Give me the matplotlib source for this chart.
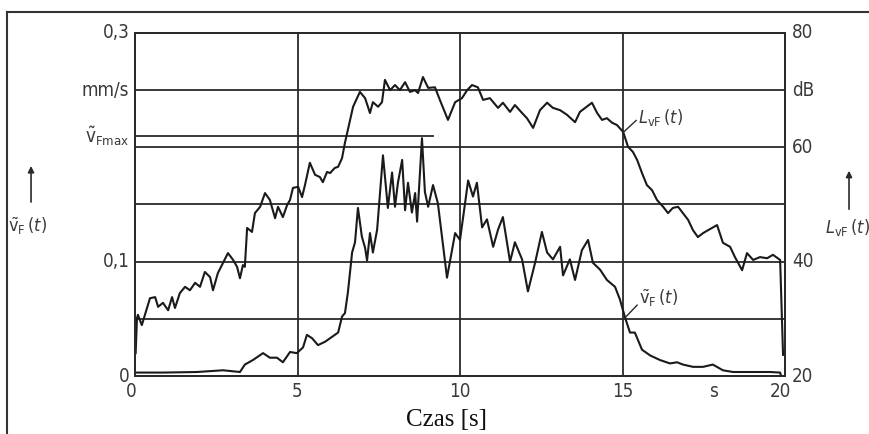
import matplotlib
matplotlib.use("Agg")
import matplotlib.pyplot as plt
from matplotlib import font_manager
from matplotlib.lines import Line2D

# czcionka waska jesli jest
names = {f.name for f in font_manager.fontManager.ttflist}
fnt = 'Liberation Sans Narrow' if 'Liberation Sans Narrow' in names else 'DejaVu Sans'
plt.rcParams['font.family'] = [fnt, 'DejaVu Sans']
plt.rcParams['font.stretch'] = 'condensed'
plt.rcParams['mathtext.fontset'] = 'custom'
plt.rcParams['mathtext.rm'] = fnt
plt.rcParams['mathtext.it'] = fnt + ':italic'
plt.rcParams['mathtext.sf'] = fnt

# poziom predkosci drgan L_vF [dB] w funkcji czasu [s]
t_L = [0.02, 0.06, 0.09, 0.21, 0.46, 0.62, 0.71, 0.86, 1.02, 1.14, 1.23, 1.38, 1.54, 1.69,
       1.85, 2.00, 2.15, 2.31, 2.40, 2.55, 2.71, 2.86, 3.02, 3.14, 3.23, 3.32, 3.38, 3.45,
       3.60, 3.69, 3.85, 4.00, 4.15, 4.31, 4.40, 4.55, 4.68, 4.77, 4.86, 5.02, 5.14, 5.23,
       5.38, 5.54, 5.69, 5.78, 5.91, 6.00, 6.15, 6.25, 6.37, 6.46, 6.62, 6.71, 6.92, 7.08,
       7.23, 7.32, 7.48, 7.60, 7.69, 7.85, 8.00, 8.15, 8.31, 8.46, 8.62, 8.71, 8.86, 9.02,
       9.23, 9.38, 9.63, 9.85, 10.06, 10.22, 10.37, 10.55, 10.71, 10.92, 11.17, 11.32,
       11.54, 11.69, 11.91, 12.06, 12.25, 12.46, 12.68, 12.86, 13.08, 13.29, 13.54, 13.69,
       13.85, 14.06, 14.22, 14.37, 14.52, 14.68, 14.83, 15.02, 15.17, 15.32, 15.45, 15.60,
       15.75, 15.91, 16.06, 16.25, 16.40, 16.55, 16.71, 16.86, 17.02, 17.17, 17.32, 17.48,
       17.63, 17.91, 18.09, 18.31, 18.46, 18.68, 18.83, 19.02, 19.23, 19.45, 19.63, 19.85,
       19.94]
L_vF = [24.0, 30.1, 30.7, 28.9, 33.6, 33.8, 32.1, 32.8, 31.5, 33.8, 31.9, 34.5, 35.6, 35.0,
        36.3, 35.6, 38.2, 37.3, 35.0, 38.0, 39.8, 41.5, 40.3, 39.1, 37.1, 39.4, 39.1, 45.9,
        45.2, 48.5, 49.6, 52.0, 50.8, 47.6, 49.6, 47.8, 49.9, 50.8, 52.9, 53.1, 51.3, 53.4,
        57.3, 55.2, 54.8, 53.9, 55.7, 55.5, 56.4, 56.6, 58.1, 60.8, 64.8, 67.1, 69.7, 68.6,
        66.0, 67.9, 67.1, 67.9, 71.8, 70.0, 70.9, 70.0, 71.4, 69.7, 70.0, 69.5, 72.3, 70.4,
        70.5, 68.3, 64.8, 67.9, 68.6, 70.0, 70.9, 70.5, 68.3, 68.6, 66.9, 67.8,
        66.2, 67.4, 66.0, 65.1, 63.4, 66.5, 67.8, 66.9, 66.5, 65.7, 64.4, 66.2,
        66.9, 67.8, 66.0, 64.8, 65.1, 64.3, 63.9, 62.7, 60.1, 59.2, 57.8, 55.5,
        53.4, 52.5, 50.8, 49.6, 48.5, 49.4, 49.6, 48.5, 47.3, 45.5, 44.3, 45.0,
        45.5, 46.4, 43.3, 42.6, 40.8, 38.5, 41.5, 40.3, 40.8, 40.6, 41.2, 40.3,
        23.7]

# predkosc drgan v_F [mm/s]
t_v = [0.00, 0.86, 1.91, 2.71, 3.23, 3.38, 3.63, 3.94, 4.15, 4.37, 4.55, 4.77, 4.98, 5.17,
       5.29, 5.45, 5.63, 5.85, 6.00, 6.25, 6.37, 6.46, 6.55, 6.68, 6.77, 6.86, 6.98, 7.08,
       7.14, 7.23, 7.32, 7.45, 7.63, 7.78, 7.91, 8.00, 8.09, 8.22, 8.31, 8.40, 8.52, 8.62,
       8.68, 8.83, 8.92, 9.02, 9.17, 9.32, 9.60, 9.85, 10.00, 10.15, 10.25, 10.40, 10.52,
       10.68, 10.83, 11.02, 11.17, 11.32, 11.54, 11.69, 11.91, 12.09, 12.31, 12.52, 12.68,
       12.86, 13.08, 13.17, 13.38, 13.54, 13.75, 13.94, 14.09, 14.31, 14.52, 14.77, 14.92,
       15.08, 15.23, 15.38, 15.60, 15.85, 16.15, 16.46, 16.68, 16.86, 17.17, 17.48, 17.78,
       18.09, 18.40, 18.71, 19.14, 19.54, 19.85, 19.88]
v_F = [0.003, 0.003, 0.0035, 0.005, 0.0035, 0.010, 0.014, 0.020, 0.016, 0.016, 0.012, 0.021,
       0.020, 0.025, 0.036, 0.033, 0.027, 0.030, 0.033, 0.038, 0.052, 0.055, 0.073, 0.108,
       0.117, 0.147, 0.122, 0.112, 0.101, 0.125, 0.108, 0.128, 0.193, 0.147, 0.178, 0.148,
       0.169, 0.189, 0.145, 0.169, 0.143, 0.160, 0.135, 0.208, 0.161, 0.148, 0.167, 0.151,
       0.086, 0.125, 0.119, 0.150, 0.171, 0.157, 0.169, 0.130, 0.137, 0.113, 0.128, 0.139,
       0.100, 0.117, 0.102, 0.074, 0.099, 0.126, 0.108, 0.102, 0.113, 0.088, 0.102, 0.084,
       0.110, 0.119, 0.099, 0.093, 0.084, 0.078, 0.067, 0.051, 0.038, 0.038, 0.023, 0.018,
       0.014, 0.011, 0.012, 0.010, 0.008, 0.008, 0.010, 0.005, 0.0035, 0.0035, 0.0035,
       0.0035, 0.003, 0.0]

v_max = 0.21
left_ticks = [0.3, 0.25, 0.21, 0.1, 0.0]
left_labels = ['0,3', 'mm/s', r'$\tilde{\mathrm{v}}_{\mathrm{Fmax}}$', '0,1', '0']
right_ticks = [80, 70, 60, 40, 20]
right_labels = ['80', 'dB', '60', '40', '20']
x_ticks = [0, 5, 10, 15, 17.8, 20]
x_labels = ['0', '5', '10', '15', 's', '20']

kol = '#2a2a2a'
txt = '#3a3a3a'
fig = plt.figure(figsize=(8.69, 4.34), dpi=100)
ax = fig.add_axes([135/869, 58/434, 650/869, 343/434])
ax.set_xlim(0, 20)
ax.set_ylim(0, 0.3)
ax.set_xticks([])
ax.set_yticks([])
for s in ax.spines.values():
    s.set_color(kol)
    s.set_linewidth(1.4)

# siatka
for g in [0.05, 0.1, 0.15, 0.2, 0.25]:
    ax.axhline(g, color=kol, lw=1.3)
for g in [5, 10, 15]:
    ax.axvline(g, color=kol, lw=1.3)
ax.plot([0, 9.17], [v_max, v_max], color=kol, lw=1.3)

ax.plot(t_v, v_F, color='#1a1a1a', lw=1.5)

ax2 = ax.twinx()
ax2.set_ylim(20, 80)
ax2.set_yticks([])
ax2.plot(t_L, L_vF, color='#1a1a1a', lw=1.5)
for s in ax2.spines.values():
    s.set_color(kol)
    s.set_linewidth(1.4)

fs = 13.5
for y, lab in zip(left_ticks, left_labels):
    ax.annotate(lab, (0, y), xytext=(-4, 0), textcoords='offset points',
                ha='right', va='center', fontsize=fs, color=txt)
for y, lab in zip(right_ticks, right_labels):
    ax2.annotate(lab, (20, y), xytext=(5, 0), textcoords='offset points',
                 ha='left', va='center', fontsize=fs, color=txt)
for x, lab in zip(x_ticks, x_labels):
    dx = -3 if x in (0, 20) else 0
    ax.annotate(lab, (x, 0), xytext=(dx, -11), textcoords='offset points',
                ha='center', va='center', fontsize=fs, color=txt)

# opisy krzywych
ax2.plot([15.02, 15.42], [62.6, 64.7], color=kol, lw=1)
ax2.text(15.48, 65.3, r'$L_{\mathrm{vF}}\,(t)$', fontsize=13, va='center', ha='left', color=txt)
ax.plot([15.08, 15.45], [0.051, 0.062], color=kol, lw=1)
ax.text(15.5, 0.068, r'$\tilde{\mathrm{v}}_{\mathrm{F}}\,(t)$', fontsize=13, va='center', ha='left', color=txt)

# osie opisane z boku (w oryginale prawy opis uciety na krawedzi)
fig.text(0.0092, 0.479, r'$\tilde{\mathrm{v}}_{\mathrm{F}}\,(t)$', fontsize=13, va='center', ha='left', color=txt)
fig.text(0.949, 0.475, r'$L_{\mathrm{vF}}\,(t)$', fontsize=13, va='center', ha='left', color=txt)
ax.annotate('', xy=(0.0357, 0.624), xytext=(0.0357, 0.528), xycoords='figure fraction',
            arrowprops=dict(arrowstyle='-|>', color=kol, lw=1.2, mutation_scale=9))
ax.annotate('', xy=(0.977, 0.613), xytext=(0.977, 0.5115), xycoords='figure fraction',
            arrowprops=dict(arrowstyle='-|>', color=kol, lw=1.2, mutation_scale=9))

fig.text(446/869, 1 - 420/434, 'Czas [s]', fontsize=18, family='Liberation Serif',
         stretch='normal', ha='center', va='center', color='#111')

# ramka
fig.add_artist(Line2D([7/869, 7/869], [0, 1 - 12/434], color='#333', lw=1.5))
fig.add_artist(Line2D([7/869, 1], [1 - 12/434, 1 - 12/434], color='#333', lw=1.5))

fig.savefig('out.png', dpi=100)
